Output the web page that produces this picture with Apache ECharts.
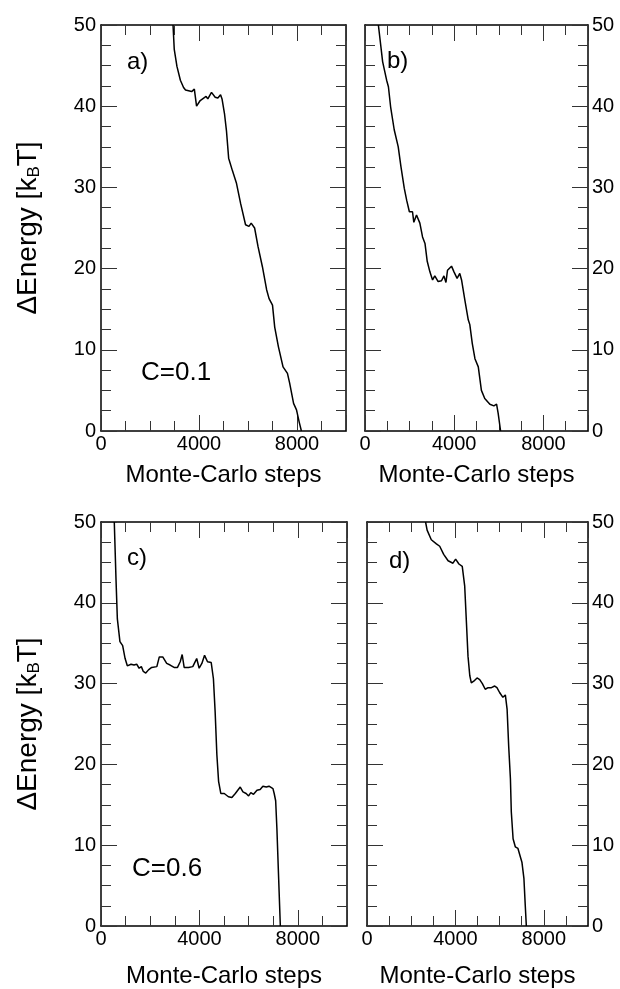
<!DOCTYPE html>
<html>
<head>
<meta charset="utf-8">
<script src="https://cdn.jsdelivr.net/npm/echarts@6/dist/echarts.min.js"></script>
<style>
  html, body { margin: 0; padding: 0; background: #fff; }
  #main { width: 620px; height: 989px; }
</style>
</head>
<body>
<div id="main"></div>
<script>
// values
const stepsA = [2940, 2990, 3100, 3240, 3370, 3450, 3700, 3810, 3900, 4050, 4190, 4290, 4360, 4510, 4660, 4770, 4880, 4940, 5040, 5120, 5210, 5360, 5530, 5700, 5900, 6040, 6130, 6270, 6410, 6590, 6760, 6860, 7000, 7090, 7240, 7430, 7610, 7700, 7860, 7980, 8090, 8180];
const energyA = [50, 47, 44.9, 43.2, 42.3, 42.0, 41.8, 42.1, 40.0, 40.7, 41.0, 41.2, 40.9, 41.7, 41.1, 41.0, 41.4, 40.9, 39.1, 37.0, 33.6, 32.1, 30.5, 28.0, 25.4, 25.2, 25.6, 25.0, 22.7, 20.2, 17.4, 16.3, 15.5, 12.8, 10.4, 7.9, 7.1, 5.9, 3.4, 2.6, 1.1, 0];

const stepsB = [600, 790, 970, 1050, 1150, 1310, 1490, 1610, 1760, 1870, 1990, 2060, 2130, 2190, 2310, 2460, 2580, 2690, 2790, 2910, 3030, 3130, 3280, 3430, 3540, 3630, 3700, 3880, 3990, 4130, 4250, 4330, 4480, 4630, 4700, 4810, 4930, 5080, 5220, 5370, 5600, 5780, 5900, 5970, 6080];
const energyB = [50, 45.5, 43.2, 42.4, 39.9, 37.1, 35.0, 32.6, 29.9, 28.4, 27.0, 26.8, 27.0, 25.7, 26.6, 25.6, 23.9, 23.1, 20.9, 19.6, 18.6, 19.1, 18.4, 18.5, 19.1, 18.3, 19.8, 20.3, 19.6, 18.8, 19.4, 18.6, 16.1, 13.7, 13.1, 10.8, 8.9, 7.9, 5.0, 4.0, 3.3, 3.1, 3.3, 2.2, 0];

const stepsC = [540, 610, 665, 770, 880, 980, 1070, 1220, 1340, 1450, 1550, 1640, 1720, 1820, 1930, 2060, 2270, 2370, 2510, 2670, 2810, 2970, 3110, 3220, 3300, 3380, 3560, 3730, 3890, 3990, 4100, 4210, 4330, 4480, 4570, 4640, 4710, 4780, 4870, 5010, 5180, 5320, 5460, 5660, 5770, 5900, 6000, 6090, 6200, 6340, 6470, 6580, 6720, 6830, 6990, 7040, 7100, 7150, 7220, 7290];
const energyC = [50, 42.9, 38.0, 35.2, 34.7, 33.1, 32.2, 32.4, 32.3, 32.4, 31.9, 32.1, 31.5, 31.3, 31.7, 32.0, 32.1, 33.3, 33.3, 32.5, 32.3, 32.0, 32.0, 32.7, 33.6, 32.0, 32.0, 32.1, 33.1, 31.9, 32.5, 33.5, 32.7, 32.6, 30.6, 26.5, 21.2, 17.9, 16.4, 16.4, 16.0, 15.9, 16.4, 17.2, 16.6, 16.4, 16.1, 16.5, 16.3, 16.8, 16.9, 17.3, 17.2, 17.3, 17.0, 16.4, 15.5, 12.1, 6.0, 0];

const stepsD = [2650, 2720, 2910, 3140, 3290, 3470, 3670, 3890, 4010, 4160, 4310, 4420, 4500, 4570, 4650, 4720, 4830, 4980, 5100, 5220, 5350, 5480, 5630, 5780, 5880, 6000, 6150, 6260, 6340, 6410, 6490, 6530, 6610, 6710, 6830, 6910, 7010, 7100, 7160, 7210];
const energyD = [50, 49.0, 47.8, 47.3, 47.0, 46.0, 45.2, 44.9, 45.4, 44.8, 44.5, 42.1, 37.5, 33.4, 31.0, 30.1, 30.3, 30.7, 30.5, 30.0, 29.3, 29.5, 29.5, 29.7, 29.5, 28.9, 28.3, 28.6, 26.8, 22.3, 18.2, 14.1, 10.8, 9.8, 9.6, 9.4, 7.9, 5.9, 2.6, 0];

const panelLabels = ['a)', 'b)', 'c)', 'd)'];
const xTitle = 'Monte-Carlo steps';
const yTitle = 'ΔEnergy [k{sub|B}T]';

const font = "'Liberation Sans', Arial, Helvetica, sans-serif";
const black = '#000';
const tickColor = '#333';

const grids = [
  {left: 101, top: 25, width: 245, height: 406},
  {left: 365, top: 25, width: 223, height: 406},
  {left: 101, top: 522, width: 246, height: 406},
  {left: 367, top: 522, width: 221, height: 406}
];

function zip(xs, ys) {
  return xs.map((x, i) => [x, ys[i]]);
}

// four x axes per grid: bottom short+long ticks, top short+long ticks
function makeXAxes(g, nameGap) {
  const base = {
    gridIndex: g, type: 'value', min: 0, max: 10000,
    splitLine: {show: false}
  };
  const line = {show: true, onZero: false, lineStyle: {color: black, width: 1.5}};
  const noLine = {show: false, onZero: false};
  return [
    Object.assign({}, base, {
      position: 'bottom', interval: 1000, axisLine: line,
      axisTick: {inside: true, length: 10, lineStyle: {color: tickColor}},
      axisLabel: {
        margin: 3, fontSize: 20, color: black, fontFamily: font,
        formatter: v => (v % 4000 === 0 ? String(v) : '')
      },
      name: xTitle, nameLocation: 'middle', nameGap: nameGap,
      nameTextStyle: {fontSize: 24, color: black, fontFamily: font}
    }),
    Object.assign({}, base, {
      position: 'bottom', interval: 4000, axisLine: noLine,
      axisTick: {inside: true, length: 16, lineStyle: {color: tickColor}},
      axisLabel: {show: false}
    }),
    Object.assign({}, base, {
      position: 'top', interval: 1000, axisLine: line,
      axisTick: {inside: true, length: 10, lineStyle: {color: tickColor}},
      axisLabel: {show: false}
    }),
    Object.assign({}, base, {
      position: 'top', interval: 4000, axisLine: noLine,
      axisTick: {inside: true, length: 16, lineStyle: {color: tickColor}},
      axisLabel: {show: false}
    })
  ];
}

function makeYAxis(g, pos, showLabel, withName) {
  const ax = {
    gridIndex: g, type: 'value', min: 0, max: 50, interval: 10, position: pos,
    axisLine: {show: true, onZero: false, lineStyle: {color: black, width: 1.5}},
    axisTick: {inside: true, length: 16, lineStyle: {color: tickColor}},
    minorTick: {show: true, splitNumber: 4, length: 10, lineStyle: {color: tickColor}},
    splitLine: {show: false},
    minorSplitLine: {show: false},
    axisLabel: {show: showLabel, margin: pos === 'left' ? 5 : 4, fontSize: 20, color: black, fontFamily: font}
  };
  if (withName) {
    ax.name = yTitle;
    ax.nameLocation = 'middle';
    ax.nameGap = 58;
    ax.nameTextStyle = {
      fontSize: 28, color: black, fontFamily: font,
      // push the subscript B below the baseline
      rich: {sub: {fontSize: 17, verticalAlign: 'top', padding: [13, 0, 0, 0], color: black, fontFamily: font}}
    };
  }
  return ax;
}

const xAxis = [].concat(
  makeXAxes(0, 32), makeXAxes(1, 32), makeXAxes(2, 38), makeXAxes(3, 38)
);
const yAxis = [
  makeYAxis(0, 'left', true, true), makeYAxis(0, 'right', false, false),
  makeYAxis(1, 'left', false, false), makeYAxis(1, 'right', true, false),
  makeYAxis(2, 'left', true, true), makeYAxis(2, 'right', false, false),
  makeYAxis(3, 'left', false, false), makeYAxis(3, 'right', true, false)
];

const curves = [zip(stepsA, energyA), zip(stepsB, energyB), zip(stepsC, energyC), zip(stepsD, energyD)];
const series = curves.map((d, g) => ({
  type: 'line',
  xAxisIndex: g * 4,
  yAxisIndex: g * 2,
  data: d,
  showSymbol: false,
  symbol: 'none',
  clip: true,
  lineStyle: {color: black, width: 1.5},
  silent: true
}));

// panel tags and C values
function tag(text, x, y, size) {
  return {
    type: 'text', x: x, y: y, silent: true,
    style: {text: text, fontSize: size, fontFamily: font, fill: black, textVerticalAlign: 'middle'}
  };
}
const graphic = [
  tag(panelLabels[0], 127, 62, 24),
  tag(panelLabels[1], 387, 61, 24),
  tag(panelLabels[2], 127, 558, 24),
  tag(panelLabels[3], 389, 561, 24),
  tag('C=0.1', 141, 373, 26),
  tag('C=0.6', 132, 869, 26)
];

const chart = echarts.init(document.getElementById('main'));
chart.setOption({
  animation: false,
  backgroundColor: '#fff',
  grid: grids,
  xAxis: xAxis,
  yAxis: yAxis,
  series: series,
  graphic: graphic
});
</script>
</body>
</html>
